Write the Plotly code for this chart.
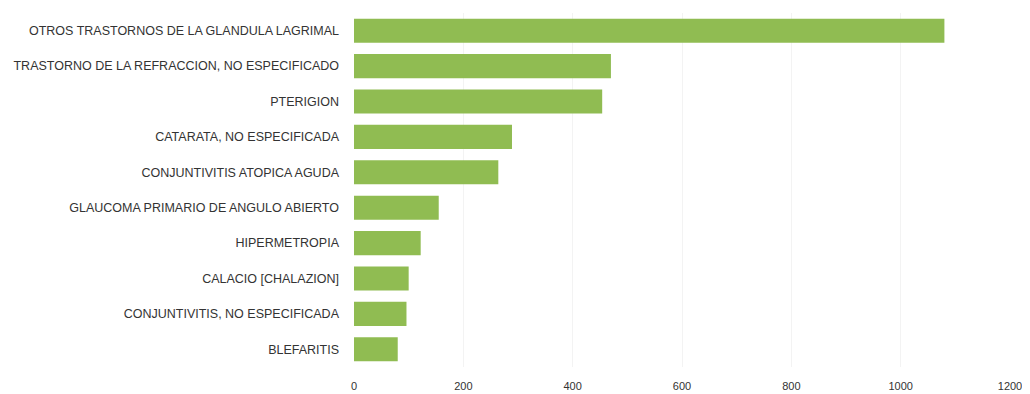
import plotly.graph_objects as go

categories = [
    "OTROS TRASTORNOS DE LA GLANDULA LAGRIMAL",
    "TRASTORNO DE LA REFRACCION, NO ESPECIFICADO",
    "PTERIGION",
    "CATARATA, NO ESPECIFICADA",
    "CONJUNTIVITIS ATOPICA AGUDA",
    "GLAUCOMA PRIMARIO DE ANGULO ABIERTO",
    "HIPERMETROPIA",
    "CALACIO [CHALAZION]",
    "CONJUNTIVITIS, NO ESPECIFICADA",
    "BLEFARITIS",
]
values = [1080, 470, 454, 289, 264, 155, 122, 100, 96, 80]
x_ticks = [0, 200, 400, 600, 800, 1000, 1200]

fig = go.Figure(
    go.Bar(
        x=values,
        y=categories,
        orientation="h",
        marker=dict(color="#90bc52", line=dict(width=0)),
        hoverinfo="x+y",
    )
)

# page body has an 8px margin, so the figure is sized/offset to compensate
fig.update_layout(
    width=1022,
    height=386,
    margin=dict(l=346, r=20, t=5, b=27),
    paper_bgcolor="white",
    plot_bgcolor="white",
    bargap=0.32,
    showlegend=False,
    font=dict(family="Liberation Sans, Arial, sans-serif", size=12, color="#333333"),
)
fig.update_yaxes(
    autorange="reversed",
    automargin=False,
    showgrid=False,
    showline=False,
    zeroline=False,
    ticks="",
    ticklabelstandoff=14,
    tickfont=dict(size=12.5, color="#333333"),
)
fig.update_xaxes(
    range=[0, 1200],
    automargin=False,
    tickvals=x_ticks,
    ticktext=[str(v) for v in x_ticks],
    showgrid=True,
    gridcolor="#f3f3f3",
    zeroline=False,
    showline=False,
    ticks="",
    ticklabelstandoff=11,
    tickfont=dict(size=11, color="#333333"),
)

fig.write_html("out.html")
